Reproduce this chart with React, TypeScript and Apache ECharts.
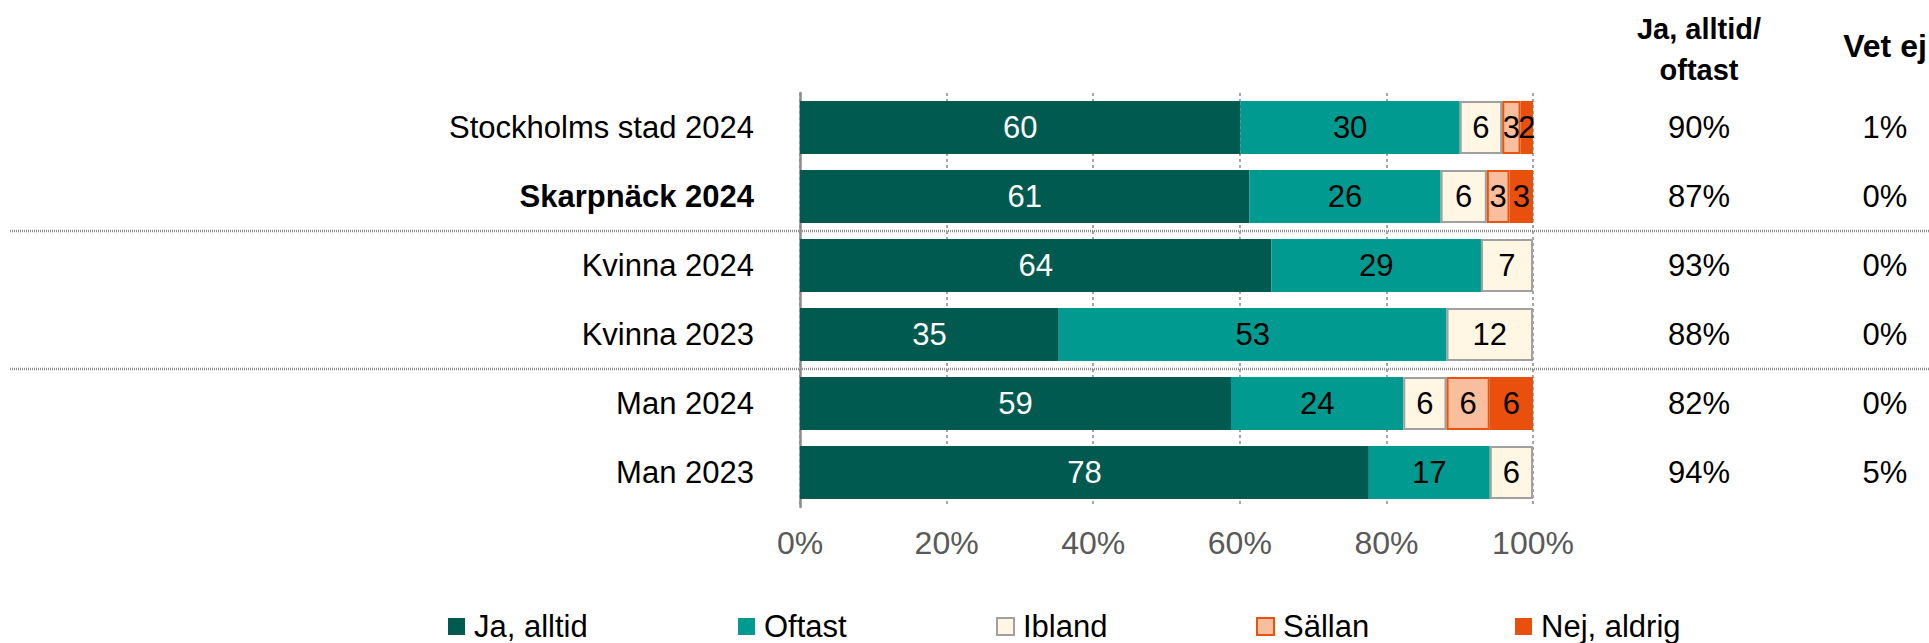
import React, { useEffect, useRef } from "react";
import * as echarts from "echarts";

const categories = [
  "Stockholms stad 2024",
  "Skarpnäck 2024",
  "Kvinna 2024",
  "Kvinna 2023",
  "Man 2024",
  "Man 2023",
];
const jaAlltid = [60.1, 61.3, 64.3, 35.3, 58.8, 77.6];
const oftast = [29.9, 26.1, 28.6, 52.9, 23.5, 16.5];
const ibland = [5.8, 6.3, 7.1, 11.8, 5.9, 5.9];
const sallan = [2.5, 3.1, 0, 0, 5.9, 0];
const nejAldrig = [1.7, 3.2, 0, 0, 5.9, 0];
const jaOftastPct = [90, 87, 93, 88, 82, 94];
const vetEjPct = [1, 0, 0, 0, 0, 5];
const seriesNames = ["Ja, alltid", "Oftast", "Ibland", "Sällan", "Nej, aldrig"];
const headerJaOftast = "Ja, alltid/\noftast";
const headerVetEj = "Vet ej";
const boldCategory = "Skarpnäck 2024";
const separatorAfter = [1, 3];

const FONT = '"Liberation Sans", Arial, sans-serif';

export default function App() {
  const ref = useRef<HTMLDivElement>(null);
  useEffect(() => {
    if (!ref.current) return;
    const chart = echarts.init(ref.current, null, { renderer: "svg" });
    const gridLeft = 800;
    const gridRight = 396;
    const gridTop = 93;
    const gridBottom = 136;

    const labelCfg = (color: string) => ({
      show: true,
      position: "inside",
      color,
      fontSize: 31,
      fontFamily: FONT,
      formatter: (p: any) => (p.value > 0 ? String(Math.round(p.value)) : ""),
    });

    const styles = [
      { color: "#005A4F" },
      { color: "#009A90" },
      { color: "#FFF6E4", borderColor: "#A0A0A0", borderWidth: 2 },
      { color: "#F8BE9E", borderColor: "#E8530E", borderWidth: 2 },
      { color: "#E9500E" },
    ];
    const dataSets = [jaAlltid, oftast, ibland, sallan, nejAldrig];
    const labelColors = ["#FFFFFF", "#000000", "#000000", "#000000", "#000000"];

    const series = seriesNames.map((name, i) => ({
      name,
      type: "bar",
      stack: "total",
      barCategoryGap: "23%",
      itemStyle: styles[i],
      label: labelCfg(labelColors[i]),
      data: dataSets[i].map((v) => (v > 0 ? v : null)),
    }));

    const legendLefts = [443, 733, 991, 1251, 1510];
    const legends = seriesNames.map((name, i) => ({
      data: [name],
      left: legendLefts[i],
      top: 606,
      icon: "rect",
      itemWidth: 17,
      itemHeight: 17,
      itemGap: 0,
      textStyle: { fontSize: 31, fontFamily: FONT, color: "#000", padding: [0, 0, 0, 4] },
      selectedMode: false,
    }));

    chart.setOption({
      animation: false,
      backgroundColor: "#FFFFFF",
      grid: { left: gridLeft, right: gridRight, top: gridTop, bottom: gridBottom, containLabel: false },
      legend: legends,
      xAxis: {
        type: "value",
        min: 0,
        max: 100,
        interval: 20,
        axisLine: { show: false },
        axisTick: { show: false },
        splitLine: { show: true, lineStyle: { color: "#A6A6A6", width: 2, type: [3, 3] } },
        axisLabel: {
          formatter: "{value}%",
          fontSize: 32,
          fontFamily: FONT,
          color: "#595959",
          margin: 20,
        },
      },
      yAxis: [
        {
          type: "category",
          data: categories,
          inverse: true,
          axisLine: { show: true, lineStyle: { color: "#8C8C8C", width: 2.5 } },
          axisTick: { show: false },
          axisLabel: {
            margin: 46,
            fontSize: 31,
            fontFamily: FONT,
            color: "#000",
            formatter: (v: string) => (v === boldCategory ? `{b|${v}}` : v),
            rich: { b: { fontWeight: "bold", fontSize: 31, fontFamily: FONT, color: "#000" } },
          },
        },
        {
          type: "category",
          data: categories,
          inverse: true,
          position: "right",
          axisLine: { show: false },
          axisTick: { show: false },
          splitLine: { show: false },
          axisLabel: {
            margin: 166,
            align: "center",
            fontSize: 31,
            fontFamily: FONT,
            color: "#000",
            formatter: (_v: string, idx: number) => `${jaOftastPct[idx]}%`,
          },
        },
        {
          type: "category",
          data: categories,
          inverse: true,
          position: "right",
          axisLine: { show: false },
          axisTick: { show: false },
          splitLine: { show: false },
          axisLabel: {
            margin: 352,
            align: "center",
            fontSize: 31,
            fontFamily: FONT,
            color: "#000",
            formatter: (_v: string, idx: number) => `${vetEjPct[idx]}%`,
          },
        },
      ],
      series,
    });

    const yOf = (c: string) => chart.convertToPixel({ yAxisIndex: 0 }, c) as number;
    const band = Math.abs(yOf(categories[1]) - yOf(categories[0]));
    const seps = separatorAfter.map((i) => {
      const y = Math.round(yOf(categories[i]) + band / 2);
      return {
        type: "line",
        shape: { x1: 10, y1: y, x2: 1929, y2: y },
        style: { stroke: "#8F8F8F", lineWidth: 2.5, lineDash: [1, 1] },
        z: 1,
      };
    });

    chart.setOption({
      graphic: [
        ...seps,
        {
          type: "text",
          x: 1699,
          y: 8,
          style: {
            text: headerJaOftast,
            font: `bold 29px ${FONT}`,
            fill: "#000",
            align: "center",
            verticalAlign: "top",
            lineHeight: 41,
          },
        },
        {
          type: "text",
          x: 1885,
          y: 46,
          style: {
            text: headerVetEj,
            font: `bold 32px ${FONT}`,
            fill: "#000",
            align: "center",
            verticalAlign: "middle",
          },
        },
      ],
    });

    return () => chart.dispose();
  }, []);
  return (
    <div
      ref={ref}
      style={{ position: "fixed", left: 0, top: 0, width: 1929, height: 643, background: "#fff" }}
    />
  );
}
